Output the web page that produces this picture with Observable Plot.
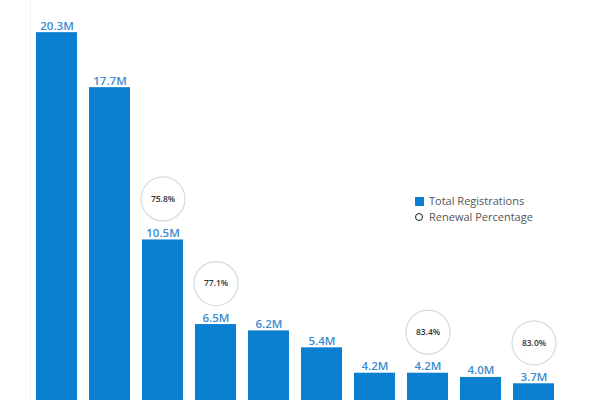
<!DOCTYPE html>
<html>
<head>
<meta charset="utf-8">
<script src="https://cdn.jsdelivr.net/npm/d3@7"></script>
<script src="https://cdn.jsdelivr.net/npm/@observablehq/plot@0.6"></script>
<style>
  html, body { margin: 0; padding: 0; background: #fff; overflow: hidden; }
  #wrap { position: relative; width: 600px; height: 400px; font-family: "Open Sans", sans-serif; }
  .legend { position: absolute; left: 415px; top: 193px; font-size: 11px; color: #555; line-height: 16px; }
  .legend .row { display: flex; align-items: center; }
  .legend .sw { width: 9px; height: 9px; background: #0b7fd0; margin-right: 5px; }
  .legend .ci { width: 6px; height: 6px; border: 1.8px solid #222; border-radius: 50%; margin-right: 6px; margin-left: 0px; }
</style>
</head>
<body>
<div id="wrap"></div>
<script>
const categories = ["1", "2", "3", "4", "5", "6", "7", "8", "9", "10"];
const registrations = [20.3, 17.7, 10.5, 6.5, 6.2, 5.4, 4.2, 4.2, 4.0, 3.7];
const renewal = [null, null, 75.8, 77.1, null, null, null, 83.4, null, 83.0];

const data = categories.map((c, i) => ({cat: c, reg: registrations[i], ren: renewal[i]}));
const withRen = data.filter(d => d.ren != null);

const chart = Plot.plot({
  width: 600,
  height: 400,
  marginTop: 0,
  marginBottom: 0,
  marginLeft: 30,
  marginRight: 40,
  x: {domain: categories, paddingInner: 0.23, paddingOuter: 0.113, axis: null},
  y: {domain: [2.91, 21.82], axis: null},
  style: {fontFamily: "Open Sans, sans-serif", background: "#fff"},
  marks: [
    Plot.frame({anchor: "left", stroke: "#f0f0f0"}),
    Plot.barY(data, {x: "cat", y: "reg", fill: "#0b7fd0", clip: true}),
    Plot.text(data, {x: "cat", y: "reg", text: d => d.reg.toFixed(1) + "M", lineAnchor: "bottom", dy: -3, fill: "#3a8bd0", fontSize: 11.5, fontWeight: 600}),
    Plot.dot(withRen, {x: "cat", y: "reg", dy: -41, r: 22, fill: "white", stroke: "#d3dbe3", strokeWidth: 1.2}),
    Plot.text(withRen, {x: "cat", y: "reg", dy: -41, text: d => d.ren.toFixed(1) + "%", fill: "#333", fontSize: 8.5, fontWeight: 600})
  ]
});
document.getElementById("wrap").appendChild(chart);

const legend = document.createElement("div");
legend.className = "legend";
legend.innerHTML = '<div class="row"><span class="sw"></span>Total Registrations</div>' +
                   '<div class="row"><span class="ci"></span>Renewal Percentage</div>';
document.getElementById("wrap").appendChild(legend);
</script>
</body>
</html>
